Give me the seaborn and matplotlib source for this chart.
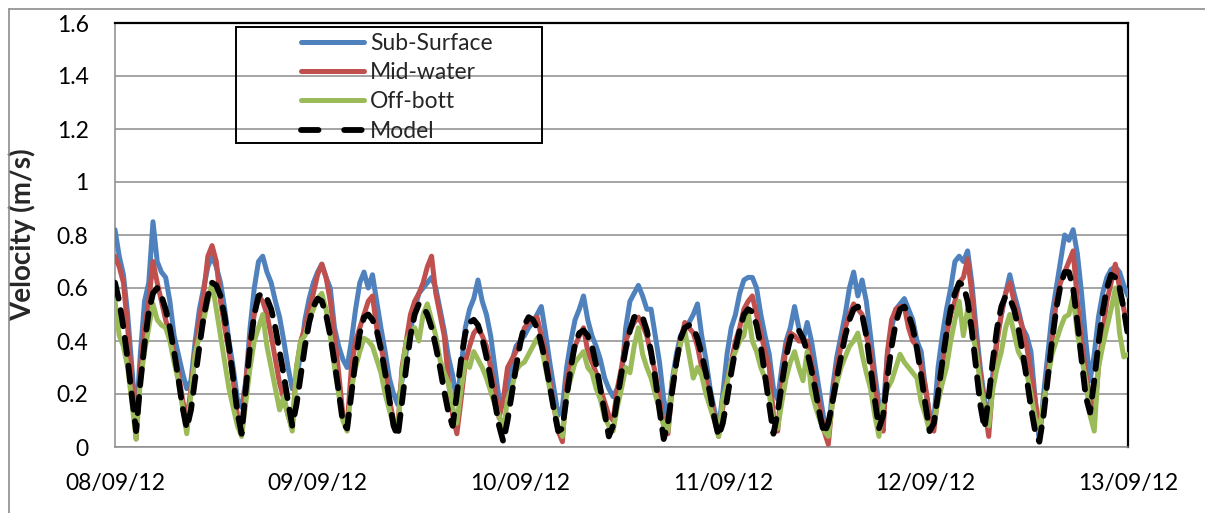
import numpy as np
import pandas as pd
import matplotlib
matplotlib.use("Agg")
import matplotlib.pyplot as plt
import seaborn as sns
from matplotlib.lines import Line2D
from matplotlib.patches import Rectangle

# ---------------- data (30-min steps) ----------------
hours = np.arange(0, 120.5, 0.5)          # hours since 08/09/12 00:00
date_tick_hours = [0, 24, 48, 72, 96, 120]
date_labels = ["08/09/12", "09/09/12", "10/09/12", "11/09/12", "12/09/12", "13/09/12"]
y_ticks = [0, 0.2, 0.4, 0.6, 0.8, 1.0, 1.2, 1.4, 1.6]
y_tick_labels = ["0", "0.2", "0.4", "0.6", "0.8", "1", "1.2", "1.4", "1.6"]
series_names = ["Sub-Surface", "Mid-water", "Off-bott", "Model"]

sub_surface = [
    0.82, 0.72, 0.65, 0.50, 0.30, 0.10, 0.35, 0.55, 0.62, 0.85, 0.70, 0.66,
    0.64, 0.55, 0.42, 0.35, 0.28, 0.22, 0.25, 0.40, 0.52, 0.60, 0.68, 0.72,
    0.68, 0.62, 0.52, 0.40, 0.30, 0.18, 0.15, 0.25, 0.45, 0.60, 0.70, 0.72,
    0.66, 0.62, 0.55, 0.49, 0.40, 0.30, 0.22, 0.26, 0.35, 0.48, 0.56, 0.62,
    0.66, 0.69, 0.64, 0.60, 0.45, 0.38, 0.33, 0.30, 0.40, 0.52, 0.62, 0.66,
    0.60, 0.65, 0.55, 0.45, 0.36, 0.26, 0.20, 0.16, 0.25, 0.36, 0.44, 0.52,
    0.58, 0.60, 0.62, 0.64, 0.60, 0.52, 0.44, 0.34, 0.27, 0.17, 0.30, 0.45,
    0.52, 0.56, 0.63, 0.55, 0.50, 0.42, 0.30, 0.18, 0.16, 0.20, 0.32, 0.38,
    0.40, 0.42, 0.45, 0.47, 0.50, 0.53, 0.43, 0.32, 0.22, 0.12, 0.15, 0.30,
    0.40, 0.48, 0.52, 0.57, 0.48, 0.42, 0.38, 0.33, 0.26, 0.22, 0.19, 0.22,
    0.26, 0.45, 0.55, 0.58, 0.61, 0.57, 0.52, 0.52, 0.42, 0.32, 0.18, 0.10,
    0.25, 0.35, 0.42, 0.45, 0.47, 0.50, 0.54, 0.42, 0.33, 0.22, 0.14, 0.07,
    0.20, 0.35, 0.45, 0.50, 0.58, 0.63, 0.64, 0.64, 0.60, 0.50, 0.42, 0.35,
    0.22, 0.18, 0.30, 0.40, 0.45, 0.53, 0.45, 0.40, 0.47, 0.40, 0.30, 0.20,
    0.10, 0.05, 0.22, 0.34, 0.42, 0.50, 0.60, 0.66, 0.57, 0.63, 0.55, 0.42,
    0.28, 0.16, 0.14, 0.35, 0.45, 0.52, 0.54, 0.56, 0.52, 0.48, 0.40, 0.36,
    0.22, 0.12, 0.10, 0.30, 0.42, 0.52, 0.60, 0.70, 0.72, 0.70, 0.74, 0.62,
    0.45, 0.30, 0.18, 0.10, 0.28, 0.42, 0.50, 0.58, 0.65, 0.58, 0.52, 0.45,
    0.42, 0.36, 0.18, 0.02, 0.20, 0.35, 0.50, 0.60, 0.70, 0.80, 0.78, 0.82,
    0.73, 0.58, 0.40, 0.25, 0.35, 0.49, 0.58, 0.64, 0.67, 0.68, 0.66, 0.61,
    0.57,
]

mid_water = [
    0.72, 0.68, 0.62, 0.45, 0.25, 0.03, 0.30, 0.45, 0.55, 0.70, 0.62, 0.55,
    0.48, 0.42, 0.36, 0.28, 0.18, 0.10, 0.22, 0.36, 0.48, 0.58, 0.72, 0.76,
    0.70, 0.55, 0.45, 0.36, 0.25, 0.12, 0.05, 0.25, 0.40, 0.50, 0.57, 0.55,
    0.50, 0.42, 0.33, 0.24, 0.18, 0.12, 0.07, 0.30, 0.40, 0.45, 0.52, 0.58,
    0.65, 0.69, 0.64, 0.55, 0.42, 0.28, 0.12, 0.08, 0.30, 0.40, 0.45, 0.50,
    0.55, 0.57, 0.45, 0.38, 0.30, 0.18, 0.10, 0.07, 0.30, 0.40, 0.50, 0.55,
    0.58, 0.62, 0.68, 0.72, 0.58, 0.50, 0.42, 0.25, 0.12, 0.05, 0.18, 0.32,
    0.38, 0.43, 0.45, 0.42, 0.38, 0.30, 0.22, 0.11, 0.18, 0.30, 0.33, 0.36,
    0.40, 0.45, 0.47, 0.48, 0.49, 0.42, 0.36, 0.25, 0.15, 0.06, 0.02, 0.25,
    0.32, 0.38, 0.42, 0.45, 0.36, 0.32, 0.28, 0.22, 0.17, 0.12, 0.10, 0.22,
    0.30, 0.40, 0.44, 0.47, 0.49, 0.46, 0.42, 0.35, 0.28, 0.18, 0.08, 0.05,
    0.22, 0.32, 0.40, 0.47, 0.45, 0.43, 0.38, 0.30, 0.26, 0.18, 0.12, 0.04,
    0.15, 0.25, 0.32, 0.40, 0.45, 0.52, 0.55, 0.57, 0.50, 0.43, 0.36, 0.30,
    0.12, 0.06, 0.25, 0.38, 0.43, 0.42, 0.40, 0.40, 0.40, 0.32, 0.23, 0.15,
    0.06, 0.01, 0.18, 0.30, 0.38, 0.45, 0.50, 0.54, 0.52, 0.50, 0.42, 0.36,
    0.24, 0.11, 0.06, 0.36, 0.48, 0.52, 0.53, 0.53, 0.45, 0.40, 0.38, 0.30,
    0.23, 0.12, 0.06, 0.20, 0.30, 0.42, 0.50, 0.55, 0.62, 0.64, 0.71, 0.58,
    0.40, 0.28, 0.15, 0.04, 0.25, 0.40, 0.50, 0.58, 0.62, 0.55, 0.50, 0.45,
    0.38, 0.28, 0.18, 0.06, 0.15, 0.28, 0.40, 0.55, 0.62, 0.66, 0.70, 0.74,
    0.55, 0.40, 0.28, 0.18, 0.11, 0.30, 0.43, 0.55, 0.62, 0.69, 0.60, 0.52,
    0.46,
]

off_bott = [
    0.55, 0.42, 0.38, 0.30, 0.17, 0.03, 0.25, 0.36, 0.45, 0.54, 0.48, 0.46,
    0.45, 0.40, 0.32, 0.25, 0.15, 0.05, 0.20, 0.35, 0.42, 0.48, 0.55, 0.62,
    0.52, 0.42, 0.32, 0.22, 0.15, 0.08, 0.04, 0.17, 0.30, 0.40, 0.45, 0.50,
    0.38, 0.30, 0.22, 0.14, 0.19, 0.12, 0.06, 0.30, 0.40, 0.42, 0.48, 0.52,
    0.56, 0.58, 0.52, 0.42, 0.30, 0.20, 0.10, 0.06, 0.22, 0.30, 0.36, 0.41,
    0.40, 0.38, 0.33, 0.28, 0.20, 0.14, 0.08, 0.06, 0.28, 0.40, 0.43, 0.45,
    0.40, 0.50, 0.54, 0.48, 0.42, 0.33, 0.28, 0.24, 0.15, 0.09, 0.22, 0.32,
    0.30, 0.36, 0.33, 0.30, 0.26, 0.21, 0.16, 0.12, 0.06, 0.18, 0.22, 0.29,
    0.31, 0.32, 0.35, 0.38, 0.41, 0.38, 0.30, 0.22, 0.15, 0.08, 0.04, 0.20,
    0.26, 0.32, 0.34, 0.36, 0.30, 0.28, 0.22, 0.18, 0.11, 0.08, 0.06, 0.15,
    0.22, 0.30, 0.28, 0.38, 0.45, 0.35, 0.30, 0.26, 0.20, 0.14, 0.08, 0.06,
    0.24, 0.32, 0.39, 0.44, 0.35, 0.26, 0.30, 0.27, 0.20, 0.15, 0.10, 0.04,
    0.18, 0.24, 0.32, 0.36, 0.40, 0.42, 0.51, 0.40, 0.36, 0.30, 0.26, 0.20,
    0.10, 0.07, 0.17, 0.26, 0.32, 0.36, 0.30, 0.25, 0.36, 0.21, 0.15, 0.10,
    0.06, 0.04, 0.17, 0.24, 0.30, 0.34, 0.38, 0.40, 0.43, 0.35, 0.28, 0.22,
    0.12, 0.04, 0.17, 0.22, 0.25, 0.30, 0.35, 0.32, 0.30, 0.28, 0.26, 0.17,
    0.12, 0.06, 0.10, 0.17, 0.24, 0.30, 0.40, 0.48, 0.55, 0.42, 0.52, 0.45,
    0.36, 0.24, 0.15, 0.08, 0.22, 0.30, 0.36, 0.45, 0.50, 0.43, 0.36, 0.33,
    0.28, 0.20, 0.11, 0.06, 0.17, 0.26, 0.35, 0.40, 0.45, 0.49, 0.50, 0.57,
    0.43, 0.34, 0.25, 0.12, 0.06, 0.30, 0.38, 0.45, 0.52, 0.60, 0.43, 0.34,
    0.35,
]

model = [
    0.62, 0.55, 0.45, 0.33, 0.19, 0.06, 0.24, 0.39, 0.51, 0.58, 0.60, 0.57,
    0.52, 0.45, 0.36, 0.26, 0.15, 0.07, 0.14, 0.26, 0.38, 0.49, 0.57, 0.62,
    0.61, 0.57, 0.49, 0.38, 0.26, 0.13, 0.05, 0.22, 0.38, 0.50, 0.57, 0.58,
    0.56, 0.52, 0.45, 0.36, 0.27, 0.17, 0.08, 0.16, 0.27, 0.38, 0.47, 0.53,
    0.56, 0.55, 0.50, 0.42, 0.32, 0.21, 0.09, 0.07, 0.20, 0.33, 0.43, 0.49,
    0.50, 0.48, 0.44, 0.37, 0.28, 0.18, 0.08, 0.04, 0.17, 0.30, 0.42, 0.50,
    0.54, 0.53, 0.50, 0.45, 0.38, 0.30, 0.21, 0.13, 0.08, 0.20, 0.33, 0.43,
    0.47, 0.48, 0.46, 0.41, 0.34, 0.26, 0.17, 0.08, 0.02, 0.10, 0.20, 0.30,
    0.39, 0.46, 0.49, 0.48, 0.45, 0.39, 0.32, 0.23, 0.14, 0.06, 0.07, 0.19,
    0.30, 0.39, 0.43, 0.44, 0.42, 0.38, 0.31, 0.22, 0.13, 0.04, 0.08, 0.18,
    0.28, 0.37, 0.44, 0.49, 0.50, 0.49, 0.44, 0.36, 0.26, 0.14, 0.03, 0.09,
    0.21, 0.32, 0.41, 0.45, 0.46, 0.45, 0.41, 0.35, 0.28, 0.20, 0.11, 0.04,
    0.09, 0.18, 0.28, 0.37, 0.44, 0.50, 0.52, 0.51, 0.46, 0.38, 0.27, 0.16,
    0.05, 0.13, 0.24, 0.34, 0.41, 0.44, 0.44, 0.41, 0.36, 0.29, 0.21, 0.12,
    0.05, 0.09, 0.17, 0.26, 0.34, 0.42, 0.48, 0.52, 0.53, 0.50, 0.42, 0.30,
    0.18, 0.07, 0.12, 0.26, 0.38, 0.47, 0.52, 0.53, 0.50, 0.45, 0.37, 0.27,
    0.16, 0.06, 0.09, 0.20, 0.32, 0.43, 0.52, 0.58, 0.62, 0.61, 0.55, 0.44,
    0.30, 0.16, 0.07, 0.19, 0.33, 0.45, 0.53, 0.57, 0.56, 0.52, 0.45, 0.36,
    0.26, 0.15, 0.06, 0.02, 0.12, 0.26, 0.40, 0.52, 0.61, 0.66, 0.66, 0.60,
    0.47, 0.33, 0.19, 0.13, 0.25, 0.39, 0.51, 0.60, 0.65, 0.64, 0.60, 0.52,
    0.42,
]

# ---------------- styling ----------------
colors = {"Sub-Surface": "#4F81BD", "Mid-water": "#C0504D",
          "Off-bott": "#9BBB59", "Model": "#000000"}
GRID = "#8C8C8C"

sns.set_style("white")
plt.rcParams["font.family"] = ["Lato", "DejaVu Sans"]

df = pd.DataFrame({"hours": hours, "Sub-Surface": sub_surface,
                   "Mid-water": mid_water, "Off-bott": off_bott, "Model": model})

W, H = 1205, 513
fig = plt.figure(figsize=(W / 100, H / 100), dpi=100)
L, R, T, B = 115, 1128, 23, 447
ax = fig.add_axes([L / W, (H - B) / H, (R - L) / W, (B - T) / H])

OBS_LW = 3.6
for name in series_names[:3]:
    sns.lineplot(data=df, x="hours", y=name, ax=ax, color=colors[name],
                 lw=OBS_LW, legend=False, solid_capstyle="round",
                 solid_joinstyle="round", zorder=3)
sns.lineplot(data=df, x="hours", y="Model", ax=ax, color="black", lw=4.2,
             legend=False, linestyle=(0, (2.8, 2.0)), dash_capstyle="round",
             zorder=4)

ax.set_xlim(0, 120)
ax.set_ylim(0, 1.6)
ax.set_xticks(date_tick_hours)
ax.set_xticklabels(date_labels)
ax.set_yticks(y_ticks)
ax.set_yticklabels(y_tick_labels)
ax.yaxis.grid(True, color=GRID, lw=1.1)
ax.xaxis.grid(False)
ax.set_axisbelow(True)
ax.set_xlabel("")
ax.set_ylabel("Velocity (m/s)", fontsize=20, fontweight="bold")
ax.yaxis.set_label_coords(-0.078, 0.5)

for s in ["left", "bottom"]:
    ax.spines[s].set_color(GRID)
    ax.spines[s].set_linewidth(1.1)
for s in ["top", "right"]:
    ax.spines[s].set_color("black")
    ax.spines[s].set_linewidth(1.6)
ax.tick_params(axis="both", direction="out", length=7, width=1.1,
               color=GRID, labelsize=16.5, labelcolor="black", pad=12)

# legend: lines + labels, with its own box
handles = [Line2D([], [], color=colors[n], lw=OBS_LW, solid_capstyle="round")
           for n in series_names[:3]]
handles.append(Line2D([], [], color="black", lw=4.2,
                      linestyle=(0, (3.0, 4.4)), dash_capstyle="round"))
leg = fig.legend(handles, series_names, loc="upper left",
                 bbox_to_anchor=(301 / W, (H - 33) / H), frameon=False,
                 fontsize=16.5, handlelength=2.75, handletextpad=0.25,
                 labelspacing=0.36, borderpad=0.0, borderaxespad=0.0)
fig.patches.append(Rectangle((236 / W, (H - 143) / H), 306 / W, 116 / H,
                             transform=fig.transFigure, fill=False,
                             edgecolor="black", lw=1.4, zorder=10))

# outer chart-area border (left and top edges visible)
fig.lines.append(Line2D([8.5 / W, 8.5 / W], [0, (H - 8.5) / H],
                        transform=fig.transFigure, color=GRID, lw=1.2))
fig.lines.append(Line2D([8.5 / W, 1], [(H - 8.5) / H, (H - 8.5) / H],
                        transform=fig.transFigure, color=GRID, lw=1.2))

fig.savefig("out.png", dpi=100)
